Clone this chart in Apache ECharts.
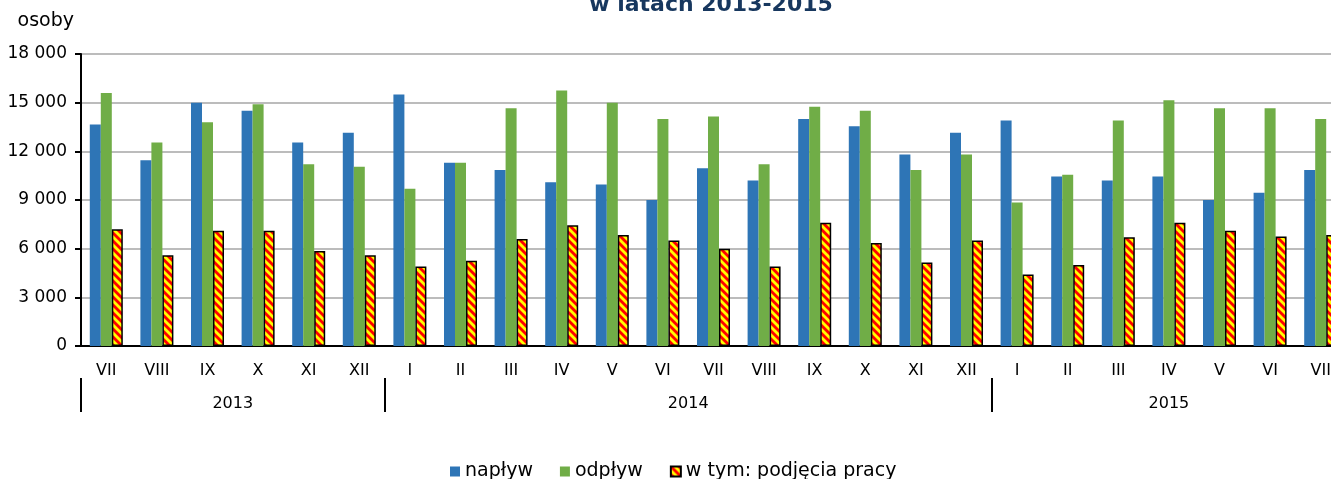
<!DOCTYPE html>
<html>
<head>
<meta charset="utf-8">
<script src="https://cdn.jsdelivr.net/npm/echarts@6/dist/echarts.min.js"></script>
<style>
  html, body { margin: 0; padding: 0; background: #fff; }
  #chart { width: 1331px; height: 479px; }
</style>
</head>
<body>
<div id="chart"></div>
<script>
  // miesiące VII 2013 - VII 2015
  const months = ['VII', 'VIII', 'IX', 'X', 'XI', 'XII',
    'I', 'II', 'III', 'IV', 'V', 'VI', 'VII', 'VIII', 'IX', 'X', 'XI', 'XII',
    'I', 'II', 'III', 'IV', 'V', 'VI', 'VII']
  const years = ['2013', '2014', '2015']
  const yearMonths = [6, 12, 7]

  const naplyw = [13650, 11450, 15000, 14500, 12550, 13150,
    15500, 11300, 10850, 10100, 9950, 9000, 10950, 10200, 14000, 13550, 11800, 13150,
    13900, 10450, 10200, 10450, 9000, 9450, 10850]
  const odplyw = [15600, 12550, 13800, 14900, 11200, 11050,
    9700, 11300, 14650, 15750, 15000, 14000, 14150, 11200, 14750, 14500, 10850, 11800,
    8850, 10550, 13900, 15150, 14650, 14650, 14000]
  const podjecia = [7200, 5600, 7100, 7100, 5850, 5600,
    4900, 5250, 6600, 7450, 6850, 6500, 6000, 4900, 7600, 6350, 5150, 6500,
    4400, 5000, 6700, 7600, 7100, 6750, 6850]

  const yTicks = { min: 0, max: 18000, step: 3000 }

  // os lat - polowki miesiecy, zeby podpis wypadl na srodku roku
  let yearAxisData = []
  let yearBounds = [0]
  years.forEach((y, i) => {
    let n = yearMonths[i] * 2
    for (let k = 0; k < n; k++) {
      yearAxisData.push(k === yearMonths[i] ? y : '')
    }
    yearBounds.push(yearBounds[yearBounds.length - 1] + n)
  })
  yearAxisData.push('')

  // pasy czerwone na zoltym
  function stripes() {
    let c = document.createElement('canvas')
    c.width = 8
    c.height = 8
    let ctx = c.getContext('2d')
    ctx.fillStyle = '#ffff00'
    ctx.fillRect(0, 0, 8, 8)
    ctx.strokeStyle = '#ff0000'
    ctx.lineWidth = 2.8
    for (let off = -8; off <= 8; off += 8) {
      ctx.beginPath()
      ctx.moveTo(off - 8, -8)
      ctx.lineTo(off + 16, 16)
      ctx.stroke()
    }
    return c
  }

  const chart = echarts.init(document.getElementById('chart'))
  const font = '"DejaVu Sans", sans-serif'

  let option = {
    animation: false,
    textStyle: { fontFamily: font },
    title: {
      text: 'w latach 2013-2015',
      left: 711,
      top: -6,
      textAlign: 'center',
      padding: 0,
      textStyle: { fontFamily: font, fontSize: 22, fontWeight: 'bold', color: '#17375e' }
    },
    legend: {
      left: 450,
      top: 462,
      padding: 0,
      itemWidth: 10,
      itemHeight: 10,
      itemGap: 27,
      icon: 'rect',
      textStyle: { fontFamily: font, fontSize: 19, color: '#000' },
      data: ['napływ', 'odpływ', 'w tym: podjęcia pracy']
    },
    grid: {
      left: 81,
      top: 54,
      width: 1265,
      height: 292,
      outerBoundsMode: 'none',
      containLabel: false
    },
    xAxis: [
      {
        type: 'category',
        data: months,
        axisLine: { lineStyle: { color: '#000', width: 2 } },
        axisTick: { interval: 0, length: 32, lineStyle: { color: '#000', width: 2 } },
        axisLabel: { interval: 0, margin: 17, fontSize: 16, color: '#000', fontFamily: font }
      },
      {
        type: 'category',
        position: 'bottom',
        offset: 32,
        boundaryGap: false,
        data: yearAxisData,
        axisLine: { show: false },
        axisTick: {
          interval: (i) => yearBounds.indexOf(i) >= 0,
          length: 34,
          lineStyle: { color: '#000', width: 2 }
        },
        axisLabel: {
          interval: (i, v) => v !== '',
          margin: 18,
          fontSize: 16,
          color: '#000',
          fontFamily: font
        }
      }
    ],
    yAxis: {
      type: 'value',
      min: yTicks.min,
      max: yTicks.max,
      interval: yTicks.step,
      name: 'osoby',
      nameLocation: 'end',
      nameGap: 23,
      nameTextStyle: { align: 'right', padding: [0, 7, 0, 0], fontSize: 19, color: '#000', fontFamily: font },
      axisLine: { show: true, lineStyle: { color: '#000', width: 2 } },
      axisTick: { show: true, length: 6, lineStyle: { color: '#000', width: 2 } },
      axisLabel: {
        margin: 14,
        fontSize: 17,
        color: '#000',
        fontFamily: font,
        formatter: (v) => String(v).replace(/\B(?=(\d{3})+(?!\d))/g, ' ')
      },
      splitLine: { lineStyle: { color: '#a6a6a6', width: 1.5 } }
    },
    series: [
      {
        name: 'napływ',
        type: 'bar',
        barWidth: 11,
        barGap: '0%',
        itemStyle: { color: '#2e75b6' },
        data: naplyw
      },
      {
        name: 'odpływ',
        type: 'bar',
        barWidth: 11,
        barGap: '0%',
        itemStyle: { color: '#70ad47' },
        data: odplyw
      },
      {
        name: 'w tym: podjęcia pracy',
        type: 'bar',
        barWidth: 11,
        barGap: '0%',
        itemStyle: {
          color: { image: stripes(), repeat: 'repeat' },
          borderColor: '#000',
          borderWidth: 1.5
        },
        data: podjecia
      }
    ]
  }
  chart.setOption(option)
</script>
</body>
</html>
